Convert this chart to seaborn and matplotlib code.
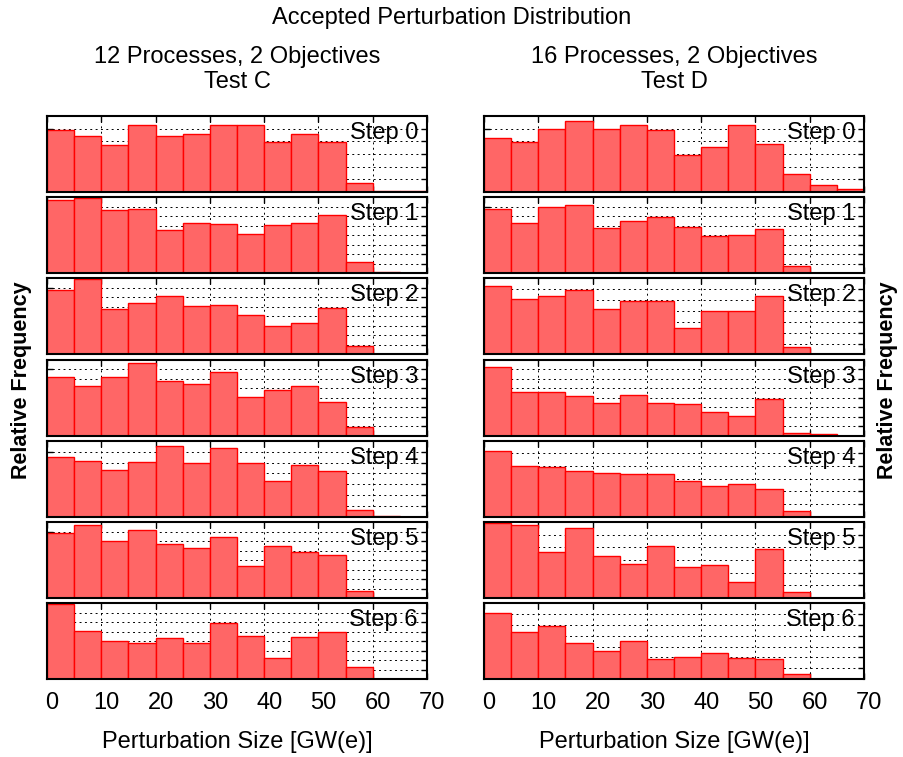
import matplotlib
matplotlib.use("Agg")
import matplotlib.pyplot as plt
from matplotlib.transforms import ScaledTranslation
import seaborn as sns

# Perturbation-size bins (GW(e)), 5 GW(e) wide
bin_edges = [0, 5, 10, 15, 20, 25, 30, 35, 40, 45, 50, 55, 60, 65, 70]
bin_centers = [2.5, 7.5, 12.5, 17.5, 22.5, 27.5, 32.5, 37.5, 42.5, 47.5, 52.5, 57.5, 62.5, 67.5]
x_ticks = [0, 10, 20, 30, 40, 50, 60, 70]
step_names = ["Step 0", "Step 1", "Step 2", "Step 3", "Step 4", "Step 5", "Step 6"]

# Relative frequency (%) of accepted perturbations, 12 processes (Test C)
c_step0 = [9.6, 8.6, 7.3, 10.3, 8.6, 9.0, 10.3, 10.3, 7.7, 9.0, 7.7, 1.4, 0.2, 0.2]
c_step1 = [11.7, 11.9, 10.1, 10.3, 6.9, 8.0, 7.8, 6.3, 7.7, 8.0, 9.2, 1.8, 0.2, 0.0]
c_step2 = [11.8, 13.8, 8.3, 9.4, 10.7, 8.9, 9.0, 7.2, 5.2, 5.8, 8.5, 1.5, 0.0, 0.0]
c_step3 = [10.0, 8.4, 10.0, 12.5, 9.4, 8.9, 10.8, 6.6, 7.8, 8.4, 5.8, 1.5, 0.0, 0.0]
c_step4 = [9.8, 9.2, 7.7, 9.0, 11.7, 8.9, 11.3, 8.9, 5.9, 8.6, 7.5, 1.2, 0.2, 0.0]
c_step5 = [10.7, 12.0, 9.3, 11.2, 8.8, 8.3, 10.1, 5.2, 8.6, 7.6, 7.1, 1.1, 0.0, 0.0]
c_step6 = [15.1, 9.6, 7.7, 7.3, 8.3, 7.3, 11.2, 8.7, 4.2, 8.5, 9.4, 2.5, 0.0, 0.0]

# Relative frequency (%) of accepted perturbations, 16 processes (Test D)
d_step0 = [8.3, 7.7, 9.6, 10.9, 9.6, 10.3, 9.4, 5.7, 6.9, 10.3, 7.3, 2.7, 1.0, 0.4]
d_step1 = [11.2, 8.8, 11.5, 11.9, 7.8, 9.0, 9.7, 8.0, 6.4, 6.6, 7.6, 1.3, 0.0, 0.0]
d_step2 = [11.8, 9.7, 10.1, 11.1, 7.9, 9.3, 9.3, 4.6, 7.5, 7.5, 10.1, 1.2, 0.0, 0.0]
d_step3 = [16.4, 10.4, 10.6, 9.5, 7.8, 9.8, 7.8, 7.5, 5.8, 4.8, 8.7, 0.6, 0.4, 0.0]
d_step4 = [13.9, 10.7, 10.4, 9.6, 9.3, 9.0, 9.0, 7.6, 6.5, 7.0, 5.8, 1.3, 0.0, 0.0]
d_step5 = [14.3, 13.9, 8.7, 13.3, 8.0, 6.4, 9.8, 5.9, 6.2, 3.0, 9.3, 1.1, 0.0, 0.0]
d_step6 = [17.2, 12.3, 13.8, 9.5, 7.2, 9.8, 5.3, 5.8, 6.9, 5.6, 5.3, 1.3, 0.0, 0.0]

# Per-panel y range (%) and number of grid intervals
c_ymax = [11.7, 12.1, 13.9, 13.0, 12.5, 12.5, 15.2]
c_grid_div = [6, 8, 8, 8, 7, 8, 8]
d_ymax = [11.6, 13.2, 13.2, 18.3, 16.0, 14.4, 19.7]
d_grid_div = [6, 8, 7, 8, 6, 6, 7]

columns = [
    {"title": "12 Processes, 2 Objectives", "test": "Test C",
     "data": [c_step0, c_step1, c_step2, c_step3, c_step4, c_step5, c_step6],
     "ymax": c_ymax, "div": c_grid_div},
    {"title": "16 Processes, 2 Objectives", "test": "Test D",
     "data": [d_step0, d_step1, d_step2, d_step3, d_step4, d_step5, d_step6],
     "ymax": d_ymax, "div": d_grid_div},
]

sns.set_style("white")
plt.rcParams["font.family"] = ["Liberation Sans", "DejaVu Sans"]
plt.rcParams["text.color"] = "black"
plt.rcParams["xtick.color"] = "black"
plt.rcParams["ytick.color"] = "black"
plt.rcParams["xtick.labelcolor"] = "black"
plt.rcParams["axes.labelcolor"] = "black"

W, H = 904, 757
fig = plt.figure(figsize=(W / 100, H / 100), dpi=100)


def px_axes(x0, y0, x1, y1):
    return fig.add_axes([x0 / W, 1 - y1 / H, (x1 - x0) / W, (y1 - y0) / H])


col_px = [(47, 427), (484, 864)]
row_top, row_pitch, row_h = 116, 81.2, 76
FS = 17
label_shift = ScaledTranslation(5 / 100, 0, fig.dpi_scale_trans)

for ci, col in enumerate(columns):
    x0, x1 = col_px[ci]
    for ri, vals in enumerate(col["data"]):
        top = row_top + ri * row_pitch
        ax = px_axes(x0, top, x1, top + row_h)
        sns.histplot(x=bin_centers, weights=vals, bins=bin_edges, ax=ax,
                     color="#ff6666", edgecolor="#ff0000", linewidth=1.0,
                     alpha=1.0, zorder=2)
        ymax = col["ymax"][ri]
        ndiv = col["div"][ri]
        ax.set_xlim(0, 70)
        ax.set_ylim(0, ymax)
        ax.set_xticks(x_ticks)
        ax.set_yticks([ymax * k / ndiv for k in range(1, ndiv)])
        ax.set_axisbelow(True)
        ax.grid(True, color="black", linestyle=(0, (2.0, 3.5)), linewidth=0.7)
        ax.tick_params(direction="in", top=True, right=True, left=True,
                       bottom=True, length=4.5, width=1.0, color="black")
        ax.tick_params(axis="x", labelbottom=(ri == 6), labelsize=FS, pad=9,
                       labelcolor="black")
        ax.tick_params(axis="y", labelleft=False)
        ax.set_xlabel("")
        ax.set_ylabel("")
        for s in ax.spines.values():
            s.set_linewidth(1.5)
            s.set_color("black")
        if ri == 6:
            for lab in ax.get_xticklabels():
                lab.set_transform(lab.get_transform() + label_shift)
        ax.text(0.976, 0.775, step_names[ri], transform=ax.transAxes,
                ha="right", va="center", fontsize=FS, color="black", zorder=5)

    xc = (x0 + x1) / 2
    fig.text(xc / W, 1 - 57 / H, col["title"], ha="center", va="center", fontsize=FS)
    fig.text(xc / W, 1 - 82 / H, col["test"], ha="center", va="center", fontsize=FS)
    fig.text(xc / W, 1 - 742 / H, "Perturbation Size [GW(e)]", ha="center",
             va="center", fontsize=FS)

fig.text(452 / W, 1 - 18 / H, "Accepted Perturbation Distribution",
         ha="center", va="center", fontsize=FS)
fig.text(22 / W, 1 - 380 / H, "Relative Frequency", rotation=90, ha="center",
         va="center", fontsize=15.5, fontweight="bold")
fig.text(888 / W, 1 - 380 / H, "Relative Frequency", rotation=90, ha="center",
         va="center", fontsize=15.5, fontweight="bold")

fig.savefig("out.png", dpi=100)
